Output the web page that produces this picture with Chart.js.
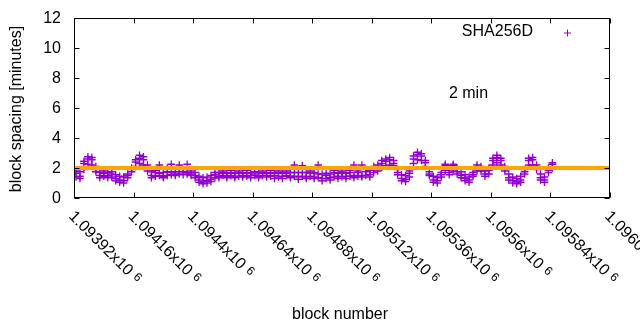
<!DOCTYPE html>
<html>
<head>
<meta charset="utf-8">
<script src="https://cdn.jsdelivr.net/npm/chart.js@4/dist/chart.umd.min.js"></script>
<style>
  html, body { margin: 0; padding: 0; background: #fff; }
  #wrap { width: 640px; height: 330px; }
</style>
</head>
<body>
<div id="wrap"><canvas id="c" width="640" height="330"></canvas></div>
<script>
// ---- data ----
const blocks = [
  1093928,1093944,1093960,1093976,1093992,1094008,1094024,1094040,1094056,1094072,
  1094088,1094104,1094120,1094136,1094152,1094168,1094184,1094200,1094216,1094232,
  1094248,1094264,1094280,1094296,1094312,1094328,1094344,1094360,1094376,1094392,
  1094408,1094424,1094440,1094456,1094472,1094488,1094504,1094520,1094536,1094552,
  1094568,1094584,1094600,1094616,1094632,1094648,1094664,1094680,1094696,1094712,
  1094728,1094744,1094760,1094776,1094792,1094808,1094824,1094840,1094856,1094872,
  1094888,1094904,1094920,1094936,1094952,1094968,1094984,1095000,1095016,1095032,
  1095048,1095064,1095080,1095096,1095112,1095128,1095144,1095160,1095176,1095192,
  1095208,1095224,1095240,1095256,1095272,1095288,1095304,1095320,1095336,1095352,
  1095368,1095384,1095400,1095416,1095432,1095448,1095464,1095480,1095496,1095512,
  1095528,1095544,1095560,1095576,1095592,1095608,1095624,1095640,1095656,1095672,
  1095688,1095704,1095720,1095736,1095752,1095768,1095784,1095800,1095816,1095832,
  1095848
];
// upper edge of the point band (minutes)
const spacingHigh = [
  1.65,1.75,2.3,2.6,2.55,2.1,1.7,1.65,1.7,1.6,
  1.55,1.45,1.4,1.6,2.0,2.4,2.65,2.55,2.2,1.75,
  1.7,2.2,1.7,1.75,2.25,1.75,2.2,1.75,2.25,1.8,
  1.7,1.45,1.35,1.4,1.5,1.55,1.7,1.65,1.7,1.65,
  1.7,1.65,1.7,1.65,1.7,1.75,1.7,1.65,1.7,1.65,
  1.7,1.65,1.7,1.65,1.7,2.2,1.7,2.15,1.7,1.65,
  1.7,2.2,1.6,1.65,1.6,1.7,1.65,1.7,1.65,1.7,
  2.2,1.7,2.2,1.75,1.85,2.1,2.0,2.3,2.45,2.55,
  2.5,1.9,1.55,1.5,1.65,2.6,2.9,2.8,2.35,1.75,
  1.45,1.35,1.7,2.15,1.95,2.15,2.0,1.75,1.55,1.4,
  1.7,2.05,2.1,1.8,1.85,2.5,2.7,2.5,2.1,1.6,
  1.4,1.3,1.45,1.9,2.5,2.55,2.2,1.6,1.4,2.0,
  2.25
];
// lower edge of the point band (minutes)
const spacingLow = [
  1.4,1.45,1.9,2.25,2.2,1.75,1.5,1.45,1.5,1.4,
  1.3,1.2,1.15,1.35,1.75,2.1,2.3,2.2,1.8,1.5,
  1.45,1.5,1.45,1.5,1.55,1.6,1.6,1.55,1.6,1.6,
  1.5,1.2,1.1,1.15,1.25,1.35,1.45,1.5,1.45,1.5,
  1.45,1.45,1.5,1.45,1.5,1.5,1.45,1.5,1.5,1.45,
  1.5,1.4,1.45,1.5,1.45,1.45,1.4,1.45,1.4,1.45,
  1.4,1.35,1.3,1.3,1.35,1.4,1.45,1.4,1.45,1.45,
  1.5,1.45,1.5,1.5,1.55,1.7,1.8,2.05,2.15,2.2,
  2.15,1.55,1.3,1.25,1.4,2.3,2.55,2.5,2.1,1.5,
  1.2,1.15,1.4,1.85,1.7,1.8,1.75,1.5,1.3,1.2,
  1.45,1.8,1.8,1.6,1.6,2.2,2.35,2.2,1.8,1.35,
  1.15,1.1,1.2,1.6,2.2,2.2,1.9,1.35,1.2,1.7,
  2.0
];
// outlying points inside / around the band (minutes)
const spacingOuter = [
  1.8,1.3,2.45,2.75,2.7,1.9,1.35,1.8,1.35,1.75,
  1.15,1.05,1.0,1.5,1.9,2.55,2.85,2.75,2.0,1.35,
  1.85,1.65,1.35,2.0,1.7,1.5,1.75,1.9,1.7,1.5,
  1.35,1.05,0.95,1.0,1.1,1.7,1.35,1.8,1.35,1.85,
  1.35,1.8,1.4,1.85,1.35,1.6,1.35,1.8,1.4,1.85,
  1.3,1.8,1.3,1.8,1.35,1.7,1.25,1.7,1.3,1.8,
  1.3,1.6,1.15,1.5,1.2,1.85,1.3,1.8,1.3,1.85,
  1.35,1.8,1.4,1.9,1.4,1.9,2.2,2.5,2.6,2.7,
  2.3,1.7,1.15,1.1,1.8,2.8,3.05,2.95,2.5,1.6,
  1.05,1.0,1.55,2.25,1.55,2.25,1.6,1.35,1.15,1.05,
  1.55,2.2,1.95,1.45,2.0,2.65,2.85,2.65,1.95,1.2,
  1.0,0.95,1.05,1.75,2.65,2.7,2.05,1.2,1.05,1.85,
  2.35
];
const refLine = 2;                 // "2 min" reference
const xMin = 1093920, xMax = 1096080;
const yTicks = [0, 2, 4, 6, 8, 10, 12];
const xTicks = [1093920,1094160,1094400,1094640,1094880,1095120,1095360,1095600,1095840,1096080];
const xTickLabels = ["1.09392","1.09416","1.0944","1.09464","1.09488","1.09512","1.09536","1.0956","1.09584","1.09608"];
const xTickExp = "6";
const seriesName = "SHA256D";
const refLabel = "2 min";
const refLabelPos = { x: 1095431, y: 6.97 };
const xTitle = "block number";
const yTitle = "block spacing [minutes]";

const PURPLE = '#9400d3';
const ORANGE = '#ffa500';
const FONT = '"Liberation Sans", Arial, sans-serif';

const points = blocks.map((b, i) => ({ x: b, y: spacingHigh[i] }))
  .concat(blocks.map((b, i) => ({ x: b, y: spacingLow[i] })))
  .concat(blocks.map((b, i) => ({ x: b, y: spacingOuter[i] })));

const deco = {
  id: 'deco',
  afterDraw(chart) {
    const ctx = chart.ctx, a = chart.chartArea;
    const xs = chart.scales.x, ys = chart.scales.y;
    ctx.save();
    ctx.strokeStyle = '#000';
    ctx.lineWidth = 1;
    const L = Math.round(a.left) + 0.5, R = Math.round(a.right) - 0.5;
    const T = Math.round(a.top) + 0.5, B = Math.round(a.bottom) - 0.5;
    ctx.strokeRect(L, T, R - L, B - T);
    ctx.beginPath();
    yTicks.forEach(v => {
      const y = Math.round(ys.getPixelForValue(v)) + 0.5;
      ctx.moveTo(L, y); ctx.lineTo(L + 5, y);
      ctx.moveTo(R, y); ctx.lineTo(R - 5, y);
    });
    xTicks.forEach(v => {
      const x = Math.round(xs.getPixelForValue(v)) + 0.5;
      ctx.moveTo(x, B); ctx.lineTo(x, B - 5);
      ctx.moveTo(x, T); ctx.lineTo(x, T + 5);
    });
    ctx.stroke();

    ctx.fillStyle = '#000';
    // y tick labels
    ctx.font = '16px ' + FONT;
    ctx.textAlign = 'right';
    ctx.textBaseline = 'middle';
    yTicks.forEach(v => ctx.fillText(String(v), a.left - 13, ys.getPixelForValue(v) + 1));

    // x tick labels, rotated -45 (clockwise)
    xTicks.forEach((v, i) => {
      const x = xs.getPixelForValue(v);
      ctx.save();
      ctx.translate(x - 3, a.bottom + 16);
      ctx.rotate(Math.PI / 4);
      ctx.textAlign = 'left';
      ctx.textBaseline = 'middle';
      ctx.font = '16px ' + FONT;
      const main = xTickLabels[i] + 'x10';
      ctx.fillText(main, 0, 0);
      const w = ctx.measureText(main).width;
      ctx.font = '12px ' + FONT;
      ctx.fillText(xTickExp, w + 5, -2);
      ctx.restore();
    });

    // axis titles
    ctx.font = '16px ' + FONT;
    ctx.textAlign = 'center';
    ctx.textBaseline = 'middle';
    ctx.fillText(xTitle, (a.left + a.right) / 2 - 2, 315);
    ctx.save();
    ctx.translate(17, (a.top + a.bottom) / 2 + 1);
    ctx.rotate(-Math.PI / 2);
    ctx.fillText(yTitle, 0, 0);
    ctx.restore();

    // legend
    ctx.textAlign = 'right';
    ctx.fillText(seriesName, a.right - 77, 32);
    ctx.strokeStyle = PURPLE;
    ctx.beginPath();
    ctx.moveTo(a.right - 46, 33); ctx.lineTo(a.right - 39, 33);
    ctx.moveTo(a.right - 42.5, 29.5); ctx.lineTo(a.right - 42.5, 36.5);
    ctx.stroke();

    // "2 min" label
    ctx.fillStyle = '#000';
    ctx.textAlign = 'left';
    ctx.fillText(refLabel, xs.getPixelForValue(refLabelPos.x), ys.getPixelForValue(refLabelPos.y));
    ctx.restore();
  }
};

new Chart(document.getElementById('c'), {
  type: 'scatter',
  data: {
    datasets: [
      {
        type: 'line',
        label: refLabel,
        data: [{ x: xMin, y: refLine }, { x: xMax, y: refLine }],
        borderColor: ORANGE,
        borderWidth: 4,
        pointRadius: 0,
        fill: false
      },
      {
        label: seriesName,
        data: points,
        pointStyle: 'cross',
        pointRadius: 3.8,
        borderColor: PURPLE,
        backgroundColor: PURPLE,
        borderWidth: 1.3,
        showLine: false
      }
    ]
  },
  options: {
    responsive: false,
    animation: false,
    devicePixelRatio: 1,
    layout: { padding: { left: 74, top: 18, right: 30, bottom: 132 } },
    plugins: { legend: { display: false }, tooltip: { enabled: false } },
    scales: {
      x: { type: 'linear', min: xMin, max: xMax, display: false },
      y: { type: 'linear', min: 0, max: 12, display: false }
    }
  },
  plugins: [deco]
});
</script>
</body>
</html>
